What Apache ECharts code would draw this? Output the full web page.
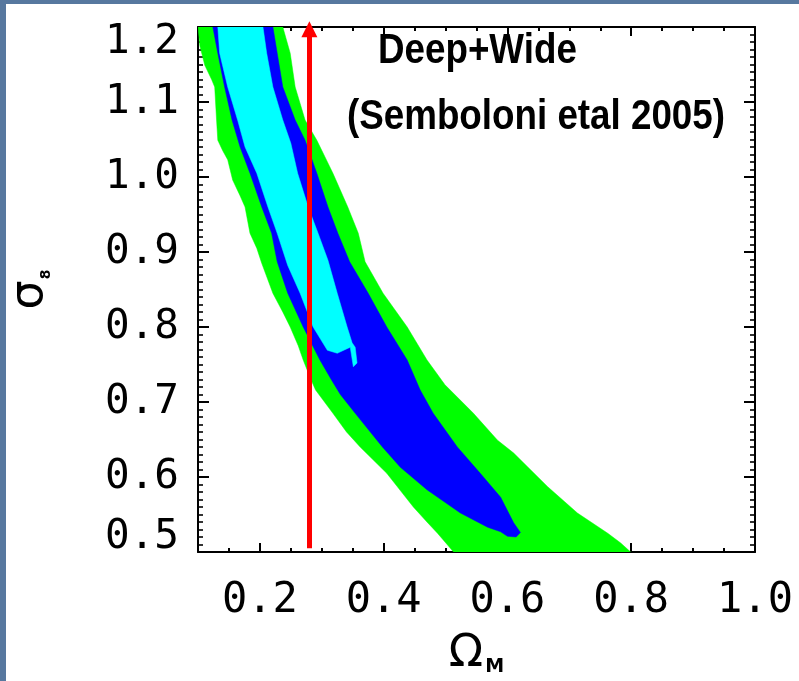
<!DOCTYPE html>
<html>
<head>
<meta charset="utf-8">
<script src="https://cdn.jsdelivr.net/npm/echarts@6/dist/echarts.min.js"></script>
<style>
html,body{margin:0;padding:0;background:#ffffff;}
#chart{width:799px;height:681px;}
</style>
</head>
<body>
<div id="chart"></div>
<script>
// ---- axis ranges and tick values ----
const xRange = [0.1, 1.0];
const yRange = [0.5, 1.2];
const yInterval = 0.1;
const xMajorTicks = [0.2, 0.4, 0.6, 0.8, 1.0];
const xMinorTicks = [0.15, 0.25, 0.3, 0.35, 0.45, 0.5, 0.55, 0.65, 0.7, 0.75, 0.85, 0.9, 0.95];

// ---- confidence contours (Omega_M, sigma_8), traced outlines ----
const outerContour = [
  [0.100,1.200],[0.103,1.175],[0.111,1.149],[0.122,1.130],[0.127,1.120],[0.130,1.076],
  [0.132,1.049],[0.140,1.035],[0.148,1.023],[0.156,0.996],[0.168,0.975],[0.176,0.960],
  [0.184,0.925],[0.195,0.905],[0.203,0.885],[0.221,0.845],[0.237,0.820],[0.249,0.800],
  [0.262,0.775],[0.270,0.756],[0.283,0.729],[0.290,0.716],[0.318,0.685],[0.340,0.660],
  [0.362,0.640],[0.405,0.605],[0.448,0.560],[0.470,0.540],[0.487,0.525],[0.513,0.500],
  [0.799,0.500],
  [0.783,0.512],[0.762,0.525],[0.713,0.552],[0.665,0.587],[0.610,0.632],[0.584,0.649],
  [0.545,0.685],[0.499,0.723],[0.470,0.756],[0.438,0.800],[0.399,0.845],[0.370,0.887],
  [0.359,0.925],[0.342,0.960],[0.318,1.005],[0.305,1.027],[0.292,1.049],[0.273,1.076],
  [0.257,1.120],[0.249,1.165],[0.237,1.200]
];
const middleContour = [
  [0.124,1.200],[0.132,1.165],[0.143,1.120],[0.155,1.076],[0.168,1.040],[0.184,1.005],
  [0.203,0.960],[0.219,0.925],[0.228,0.887],[0.245,0.845],[0.270,0.800],[0.297,0.756],
  [0.316,0.729],[0.330,0.710],[0.354,0.685],[0.398,0.640],[0.427,0.613],[0.470,0.583],
  [0.524,0.552],[0.568,0.533],[0.589,0.527],[0.600,0.521],[0.614,0.520],[0.621,0.526],
  [0.610,0.539],[0.589,0.573],[0.556,0.605],[0.519,0.640],[0.480,0.685],[0.459,0.716],
  [0.438,0.756],[0.405,0.800],[0.375,0.845],[0.345,0.887],[0.326,0.925],[0.310,0.960],
  [0.292,1.005],[0.273,1.049],[0.257,1.076],[0.237,1.120],[0.228,1.165],[0.221,1.200]
];
const innerContour = [
  [0.132,1.200],[0.135,1.165],[0.148,1.120],[0.164,1.076],[0.176,1.040],[0.195,1.005],
  [0.213,0.960],[0.228,0.925],[0.245,0.882],[0.265,0.845],[0.286,0.800],[0.309,0.769],
  [0.325,0.765],[0.346,0.773],[0.351,0.747],[0.357,0.752],[0.354,0.773],[0.349,0.779],
  [0.341,0.800],[0.325,0.845],[0.310,0.889],[0.294,0.925],[0.278,0.960],[0.261,1.005],
  [0.250,1.045],[0.237,1.076],[0.221,1.120],[0.211,1.165],[0.205,1.200]
];

// ---- marker line (Omega_M prior) ----
const markerOmegaM = 0.28;
const markerSigma8 = [0.505, 1.197];

// ---- texts ----
const annotationTexts = ['Deep+Wide', '(Semboloni etal 2005)'];

const chart = echarts.init(document.getElementById('chart'), null, {renderer: 'canvas'});

function polygonSeries(points, color) {
  return {
    type: 'custom',
    coordinateSystem: 'cartesian2d',
    clip: true,
    silent: true,
    data: points,
    renderItem: function (params, api) {
      if (params.dataIndex !== 0) return null;
      return {
        type: 'polygon',
        shape: {points: points.map(function (p) { return api.coord(p); })},
        style: {fill: color, stroke: color, lineWidth: 0.5}
      };
    }
  };
}

const black = '#000000';
const labelFont = 'DejaVu Sans Mono';

function xAxisDef(position, ticks, len, withLine, withLabel) {
  return {
    type: 'value', position: position, min: xRange[0], max: xRange[1],
    splitLine: {show: false},
    axisLine: {show: withLine, onZero: false, lineStyle: {color: black, width: 2}},
    axisTick: {show: true, inside: true, length: len, customValues: ticks, lineStyle: {color: black, width: 2}},
    axisLabel: withLabel ? {
      show: true, customValues: ticks, margin: 28, color: black,
      fontFamily: labelFont, fontSize: 42,
      formatter: function (v) { return v.toFixed(1); }
    } : {show: false}
  };
}

function yAxisDef(position, withLabel) {
  const ax = {
    type: 'value', position: position, min: yRange[0], max: yRange[1], interval: yInterval,
    splitLine: {show: false},
    axisLine: {show: true, onZero: false, lineStyle: {color: black, width: 2}},
    axisTick: {show: true, inside: true, length: 11, lineStyle: {color: black, width: 2}},
    minorTick: {show: true, splitNumber: 10, length: 5, lineStyle: {color: black, width: 1.6}},
    axisLabel: withLabel ? {
      show: true, margin: 19, color: black, fontFamily: labelFont, fontSize: 41, lineHeight: 30,
      verticalAlignMinLabel: 'bottom', verticalAlignMaxLabel: 'top',
      formatter: function (v) { return v.toFixed(1); }
    } : {show: false}
  };
  return ax;
}

const xMain = xAxisDef('bottom', xMajorTicks, 9, true, true);
xMain.name = '{o|Ω}{s|M}';
xMain.nameLocation = 'middle';
xMain.nameGap = 80;
xMain.nameTextStyle = {
  rich: {
    o: {fontFamily: 'DejaVu Sans', fontSize: 45, color: black},
    s: {fontFamily: 'DejaVu Sans', fontSize: 19, fontWeight: 'bold', color: black, verticalAlign: 'bottom', lineHeight: 22, padding: [0, 0, 0, 2]}
  }
};

const yMain = yAxisDef('left', true);
yMain.name = '{o|σ}{s|8}';
yMain.nameLocation = 'middle';
yMain.nameGap = 145;
yMain.nameTextStyle = {
  rich: {
    o: {fontFamily: 'DejaVu Sans', fontSize: 46, color: black},
    s: {fontFamily: 'DejaVu Sans', fontSize: 14, fontWeight: 'bold', color: black, verticalAlign: 'bottom', lineHeight: 18, padding: [0, 0, 0, 1]}
  }
};

const option = {
  backgroundColor: '#ffffff',
  animation: false,
  grid: {left: 198, right: 44, top: 27, bottom: 129, containLabel: false, outerBoundsMode: 'none'},
  xAxis: [
    xMain,
    xAxisDef('bottom', xMinorTicks, 4, false, false),
    xAxisDef('top', xMajorTicks, 9, true, false),
    xAxisDef('top', xMinorTicks, 4, false, false)
  ],
  yAxis: [
    yMain,
    yAxisDef('right', false)
  ],
  series: [
    polygonSeries(outerContour, '#00ff00'),
    polygonSeries(middleContour, '#0000ff'),
    polygonSeries(innerContour, '#00ffff'),
    {
      type: 'line', data: [], clip: false, silent: true,
      markLine: {
        silent: true, animation: false,
        symbol: ['none', 'triangle'], symbolSize: 16,
        label: {show: false},
        lineStyle: {color: '#ff0000', width: 5, type: 'solid'},
        itemStyle: {color: '#ff0000'},
        emphasis: {disabled: true},
        data: [[{coord: [markerOmegaM, markerSigma8[0]]}, {coord: [markerOmegaM, markerSigma8[1]]}]]
      }
    }
  ],
  graphic: [
    {type: 'rect', silent: true, shape: {x: 0, y: 0, width: 799, height: 4}, style: {fill: '#57789f'}},
    {type: 'rect', silent: true, shape: {x: 0, y: 0, width: 6, height: 681}, style: {fill: '#57789f'}},
    {type: 'text', silent: true, x: 378, y: 51, scaleX: 0.855,
     style: {text: annotationTexts[0], font: 'bold 43px "Liberation Sans"', fill: black, textAlign: 'left', textVerticalAlign: 'middle'}},
    {type: 'text', silent: true, x: 347, y: 117, scaleX: 0.855,
     style: {text: annotationTexts[1], font: 'bold 43px "Liberation Sans"', fill: black, textAlign: 'left', textVerticalAlign: 'middle'}}
  ]
};
chart.setOption(option);
</script>
</body>
</html>
